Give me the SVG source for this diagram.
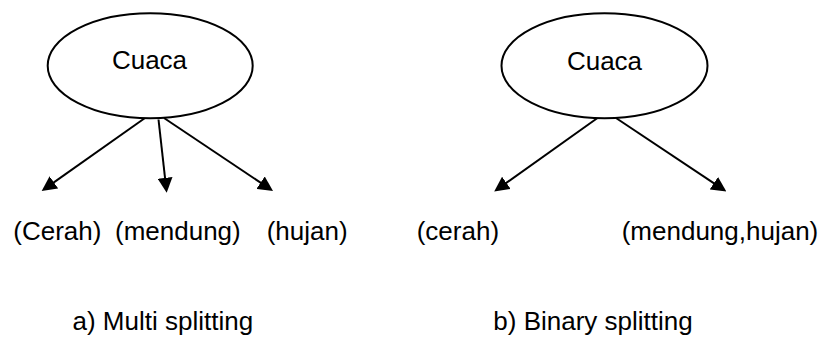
<svg xmlns="http://www.w3.org/2000/svg" width="825" height="337" viewBox="0 0 825 337">
<style>
.node{fill:#fff;stroke:#000;stroke-width:2}
.t{font-family:"Liberation Sans",Arial,sans-serif;font-size:26px;fill:#000}
.c{stroke:#000;stroke-width:2;fill:none;marker-end:url(#ah)}
</style>
<defs>
<marker id="ah" viewBox="0 0 15 15" refX="7" refY="7.5" markerWidth="15" markerHeight="15" markerUnits="userSpaceOnUse" orient="auto">
<path d="M0,0 L15,7.5 L0,15 z" fill="#000"/>
</marker>
</defs>
<rect width="825" height="337" fill="#fff"/>
<g id="connectors">
<line class="c" x1="145" y1="118" x2="48.2" y2="186.4"/>
<line class="c" x1="158.5" y1="119.5" x2="165.8" y2="184.8"/>
<line class="c" x1="164" y1="118" x2="266.4" y2="186.6"/>
<line class="c" x1="597.5" y1="118" x2="500.7" y2="186.9"/>
<line class="c" x1="616" y1="118" x2="719.7" y2="187.1"/>
</g>
<g id="cuaca-a">
<ellipse class="node" cx="150.2" cy="65.8" rx="102.5" ry="52.5"/>
<text class="t" x="149.5" y="68.5" text-anchor="middle">Cuaca</text>
</g>
<g id="cuaca-b">
<ellipse class="node" cx="604.5" cy="65.8" rx="103" ry="52.5"/>
<text class="t" x="604.5" y="69.5" text-anchor="middle">Cuaca</text>
</g>
<g id="cerah-a"><text class="t" x="13.3" y="240">(Cerah)</text></g>
<g id="mendung-a"><text class="t" x="115" y="240">(mendung)</text></g>
<g id="hujan-a"><text class="t" x="266.7" y="240">(hujan)</text></g>
<g id="cerah-b"><text class="t" x="416.7" y="240">(cerah)</text></g>
<g id="mendung-hujan-b"><text class="t" x="621.7" y="240">(mendung,hujan)</text></g>
<g id="captions">
<text class="t" x="72.5" y="330">a) Multi splitting</text>
<text class="t" x="493.3" y="330">b) Binary splitting</text>
</g>
</svg>
